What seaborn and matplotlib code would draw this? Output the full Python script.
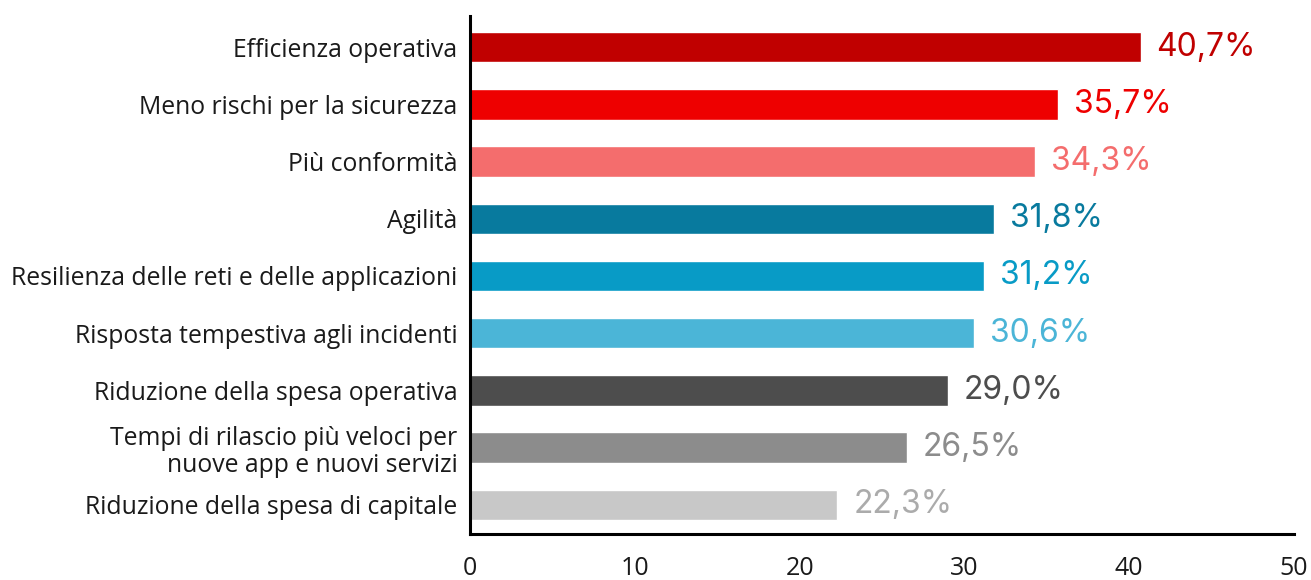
import matplotlib
matplotlib.use("Agg")
import matplotlib.pyplot as plt
import seaborn as sns
import pandas as pd

categories = [
    "Efficienza operativa",
    "Meno rischi per la sicurezza",
    "Più conformità",
    "Agilità",
    "Resilienza delle reti e delle applicazioni",
    "Risposta tempestiva agli incidenti",
    "Riduzione della spesa operativa",
    "Tempi di rilascio più veloci per\nnuove app e nuovi servizi",
    "Riduzione della spesa di capitale",
]
values = [40.7, 35.7, 34.3, 31.8, 31.2, 30.6, 29.0, 26.5, 22.3]
value_labels = ["40,7%", "35,7%", "34,3%", "31,8%", "31,2%", "30,6%", "29,0%", "26,5%", "22,3%"]
bar_colors = ["#C00000", "#EE0000", "#F46D6D", "#087A9E", "#089BC6", "#4BB5D7",
              "#4D4D4D", "#8C8C8C", "#C8C8C8"]
label_colors = ["#C00000", "#EE0000", "#F46D6D", "#087A9E", "#089BC6", "#4BB5D7",
                "#4D4D4D", "#8C8C8C", "#ABABAB"]
x_ticks = [0, 10, 20, 30, 40, 50]

sns.set_theme(style="white")
plt.rcParams["font.family"] = ["Open Sans", "DejaVu Sans"]

df = pd.DataFrame({"cat": categories, "val": values})

fig = plt.figure(figsize=(13.11, 5.80), dpi=100)
ax = fig.add_axes([0.3585, 0.0793, 0.987 - 0.3585, 0.972 - 0.0793])

sns.barplot(data=df, y="cat", x="val", hue="cat", palette=bar_colors,
            legend=False, width=0.53, ax=ax, saturation=1, orient="h")

for i, (v, lab) in enumerate(zip(values, value_labels)):
    ax.text(v + 0.95, i, lab, color=label_colors[i], va="center", ha="left",
            fontsize=23, family=["Inter", "DejaVu Sans"])

ax.set_xlim(0, 50)
ax.set_ylim(8.51, -0.54)
ax.set_xticks(x_ticks)
ax.set_xticklabels([str(t) for t in x_ticks], fontsize=18, color="#1a1a1a")
ax.tick_params(axis="x", length=0, pad=16)
ax.tick_params(axis="y", length=0, pad=9, labelsize=17.8, labelcolor="#1a1a1a")
for lab in ax.get_yticklabels():
    lab.set_horizontalalignment("right")
    lab.set_multialignment("right")
    lab.set_linespacing(1.15)
ax.set_xlabel("")
ax.set_ylabel("")
sns.despine(ax=ax, top=True, right=True)
ax.spines["left"].set_color("black")
ax.spines["left"].set_linewidth(2.2)
ax.spines["bottom"].set_color("black")
ax.spines["bottom"].set_linewidth(2.2)

fig.savefig("out.png", dpi=100)
